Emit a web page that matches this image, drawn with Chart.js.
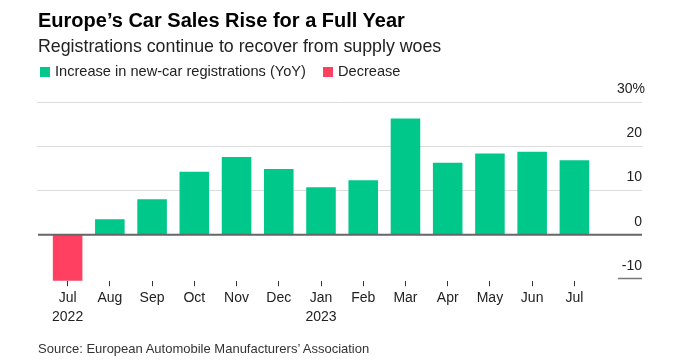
<!DOCTYPE html>
<html lang="en">
<head>
  <meta charset="UTF-8" />
  <title>Europe's Car Sales Rise for a Full Year</title>
  <script src="https://cdn.jsdelivr.net/npm/chart.js@4.4.0/dist/chart.umd.min.js"></script>
  <style>
    body { margin: 0; background: #fff; font-family: "Liberation Sans", Arial, sans-serif; }
    .wrap { position: relative; width: 689px; height: 360px; overflow: hidden; }
    .wrap canvas { position: absolute; left: 0; top: 0; }
    .title { position: absolute; left: 38px; top: 8px; font-size: 20px; font-weight: bold; color: #000; line-height: 24px; white-space: nowrap; }
    .subtitle { position: absolute; left: 38px; top: 35px; font-size: 17.8px; color: #222; line-height: 22px; white-space: nowrap; }
    .legend { position: absolute; left: 40px; top: 62px; font-size: 14.6px; color: #222; line-height: 18px; white-space: nowrap; }
    .legend span.sw { display: inline-block; width: 10px; height: 10px; margin-right: 5px; vertical-align: -1px; }
    .legend span.item { margin-right: 13px; }
    .source { position: absolute; left: 38px; top: 340px; font-size: 13px; color: #333; line-height: 18px; white-space: nowrap; }
  </style>
</head>
<body>
  <div class="wrap">
    <canvas id="chart" width="689" height="360"></canvas>
    <div class="title">Europe’s Car Sales Rise for a Full Year</div>
    <div class="subtitle">Registrations continue to recover from supply woes</div>
    <div class="legend">
      <span class="item"><span class="sw" style="background:#00c78a"></span>Increase in new-car registrations (YoY)</span>
      <span class="item"><span class="sw" style="background:#ff4060"></span>Decrease</span>
    </div>
    <div class="source">Source: European Automobile Manufacturers’ Association</div>
  </div>

  <script>
    // month labels (year shown under Jul 2022 and Jan 2023)
    var months = [["Jul", "2022"], "Aug", "Sep", "Oct", "Nov", "Dec", ["Jan", "2023"], "Feb", "Mar", "Apr", "May", "Jun", "Jul"];
    // YoY change in new-car registrations, %
    var yoyChange = [-10.4, 3.5, 8.0, 14.2, 17.5, 14.8, 10.7, 12.3, 26.2, 16.2, 18.3, 18.7, 16.8];
    var yTicks = [30, 20, 10, 0, -10];
    var yTickLabels = ["30%", "20", "10", "0", "-10"];

    var green = "#00c78a";
    var red = "#ff4060";

    // draws the gridlines and right-hand value labels
    var yGridPlugin = {
      id: "yGrid",
      beforeDatasetsDraw: function (chart) {
        var ctx = chart.ctx;
        var y = chart.scales.y;
        ctx.save();
        yTicks.forEach(function (v) {
          var py = Math.round(y.getPixelForValue(v)) + 0.5;
          if (v > 0) {
            ctx.strokeStyle = "#dcdcdc";
            ctx.lineWidth = 1;
            ctx.beginPath();
            ctx.moveTo(37, py);
            ctx.lineTo(642, py);
            ctx.stroke();
          } else if (v < 0) {
            ctx.strokeStyle = "#777";
            ctx.lineWidth = 1.5;
            ctx.beginPath();
            ctx.moveTo(618, py - 1);
            ctx.lineTo(642, py - 1);
            ctx.stroke();
          }
        });
        ctx.restore();
      },
      afterDatasetsDraw: function (chart) {
        var ctx = chart.ctx;
        var y = chart.scales.y;
        ctx.save();
        var py0 = y.getPixelForValue(0);
        ctx.strokeStyle = "#666";
        ctx.lineWidth = 2;
        ctx.beginPath();
        ctx.moveTo(38, py0);
        ctx.lineTo(642, py0);
        ctx.stroke();

        ctx.fillStyle = "#222";
        ctx.font = "14px 'Liberation Sans', Arial, sans-serif";
        ctx.textAlign = "right";
        ctx.textBaseline = "middle";
        yTicks.forEach(function (v, i) {
          var py = y.getPixelForValue(v);
          var x = v === 30 ? 645 : 642;
          ctx.fillText(yTickLabels[i], x, py - 13);
        });
        ctx.restore();
      }
    };

    var ctx = document.getElementById("chart").getContext("2d");
    var chart = new Chart(ctx, {
      type: "bar",
      data: {
        labels: months,
        datasets: [{
          label: "YoY",
          data: yoyChange,
          backgroundColor: yoyChange.map(function (v) { return v < 0 ? red : green; }),
          borderWidth: 0,
          barPercentage: 0.7,
          categoryPercentage: 1.0
        }]
      },
      options: {
        responsive: false,
        animation: false,
        layout: {
          padding: { left: 46.5, right: 93.5, top: 101.7, bottom: 28.8 }
        },
        plugins: {
          legend: { display: false },
          tooltip: { enabled: false }
        },
        scales: {
          x: {
            grid: {
              offset: false,
              drawOnChartArea: false,
              drawTicks: true,
              tickLength: 5,
              tickColor: "#333",
              tickWidth: 1
            },
            border: { display: false },
            ticks: {
              color: "#222",
              font: { family: "'Liberation Sans', Arial, sans-serif", size: 14, lineHeight: 1.36 },
              padding: 2,
              maxRotation: 0,
              autoSkip: false
            },
            afterFit: function (scale) { scale.height = 50; }
          },
          y: {
            display: false,
            min: -10.5,
            max: 30
          }
        }
      },
      plugins: [yGridPlugin]
    });
  </script>
</body>
</html>
